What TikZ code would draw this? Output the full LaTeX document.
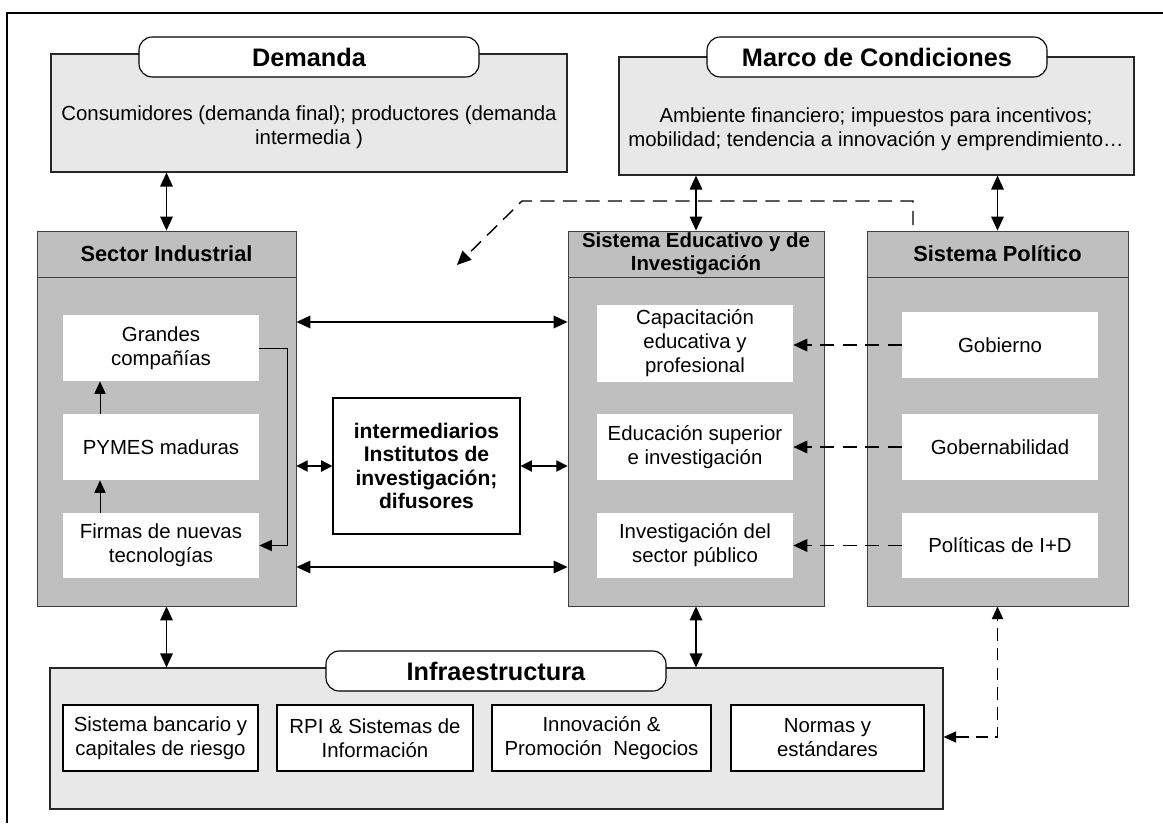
\documentclass[tikz,border=0pt]{standalone}
\usepackage{fontspec}
\setmainfont{Liberation Sans}
\usetikzlibrary{arrows.meta, positioning, fit}

\begin{document}
\begin{tikzpicture}[
  x=0.025cm, y=-0.025cm,
  outer/.style ={draw=black!85, fill=black!9, inner sep=0pt, line width=0.8pt},
  pill/.style  ={draw, fill=white, rounded corners=0.33cm, inner sep=0pt, line width=0.8pt},
  panel/.style ={draw=black!75, fill=black!25, inner sep=0pt, line width=0.6pt},
  inbox/.style ={fill=white, inner sep=0pt},
  infbox/.style={draw, fill=white, inner sep=0pt, line width=0.8pt},
  ttl/.style   ={font=\fontsize{18}{21}\selectfont\bfseries},
  hd/.style    ={align=center, font=\fontsize{15.5}{17}\selectfont\bfseries},
  txt/.style   ={align=center, font=\fontsize{14.5}{17}\selectfont},
  dbl/.style   ={{Triangle[length=10pt,width=9pt]}-{Triangle[length=10pt,width=9pt]}, line width=0.9pt},
  sdbl/.style  ={{Triangle[length=8pt,width=8pt]}-{Triangle[length=8pt,width=8pt]}, line width=0.9pt},
  arr/.style   ={-{Triangle[length=9pt,width=8pt]}, line width=0.7pt},
  dsh/.style   ={-{Triangle[length=10pt,width=9pt]}, line width=1pt, dash pattern=on 10pt off 6pt},
  dshd/.style  ={{Triangle[length=9pt,width=8pt]}-{Triangle[length=9pt,width=8pt]}, line width=0.9pt,
                 dash pattern=on 9pt off 5pt},
]

%% ---- Frame ----
\useasboundingbox (0,0) rectangle (1163,823);
\draw[line width=1pt] (7,823) |- (1163,13);

%% ---- Demanda / Marco de Condiciones ----
\node[outer, fit={(51,54) (567,172)}]  (DEM)  {};
\node[pill,  fit={(139,37) (479,77)}, label={[ttl]center:Demanda}] (DEMp) {};
\node[txt] (DEMt) at (309,127) {Consumidores (demanda final); productores (demanda\\intermedia )};

\node[outer, fit={(619,57) (1134,175)}] (MC)  {};
\node[pill,  fit={(707,37) (1047,77)}, label={[ttl]center:Marco de Condiciones}] (MCp) {};
\node[txt] (MCt) at (876,129) {Ambiente financiero; impuestos para incentivos;\\mobilidad; tendencia a innovación y emprendimiento…};

%% ---- Sector Industrial ----
\node[panel, fit={(37,231) (296,606)}] (SI)  {};
\node[panel, fit={(37,231) (296,277)}, label={[hd]center:Sector Industrial}] (SIh) {};
\node[inbox, fit={(63,315) (259,381)}, label={[txt]center:{Grandes\\compañías}}]      (GC) {};
\node[inbox, fit={(63,414) (259,480)}, label={[txt]center:PYMES maduras}]             (PM) {};
\node[inbox, fit={(63,513) (259,578)}, label={[txt]center:{Firmas de nuevas\\tecnologías}}] (FT) {};

%% ---- Sistema Educativo y de Investigacion ----
\node[panel, fit={(568,231) (824,606)}] (SE)  {};
\node[panel, fit={(568,231) (824,277)},
      label={[hd, font=\fontsize{14.5}{16.3}\selectfont\bfseries]center:{Sistema Educativo y de\\Investigación}}] (SEh) {};
\node[inbox, fit={(597,305) (793,382)}, label={[txt]center:{Capacitación\\educativa y\\profesional}}] (CAP) {};
\node[inbox, fit={(597,414) (793,480)}, label={[txt]center:{Educación superior\\e investigación}}]   (EDU) {};
\node[inbox, fit={(597,513) (793,578)}, label={[txt]center:{Investigación del\\sector público}}]     (INV) {};

%% ---- Sistema Politico ----
\node[panel, fit={(867,231) (1128,606)}] (SP)  {};
\node[panel, fit={(867,231) (1128,277)}, label={[hd]center:Sistema Político}] (SPh) {};
\node[inbox, fit={(902,312) (1098,378)}, label={[txt]center:Gobierno}]         (GOB) {};
\node[inbox, fit={(902,414) (1098,480)}, label={[txt]center:Gobernabilidad}]   (GBL) {};
\node[inbox, fit={(902,513) (1098,578)}, label={[txt]center:Políticas de I+D}] (PID) {};

%% ---- intermediarios ----
\node[infbox, fit={(333,398) (520,534)},
      label={[hd, font=\fontsize{15}{16.5}\selectfont\bfseries]center:{intermediarios\\Institutos de\\investigación;\\difusores}}] (INT) {};

%% ---- Infraestructura ----
\node[outer,  fit={(50,668) (943,809)}]  (INF)  {};
\node[pill,   fit={(326,651) (666,691)}, label={[ttl]center:Infraestructura}] (INFp) {};
\node[infbox, fit={(63,705) (258,771)},  label={[txt]center:{Sistema bancario y\\capitales de riesgo}}] (BAN) {};
\node[infbox, fit={(277,705) (473,771)}, label={[txt]center:{RPI \& Sistemas de\\Información}}]       (RPI) {};
\node[infbox, fit={(492,705) (711,771)}, label={[txt]center:{Innovación \&\\Promoción~~Negocios}}]    (INN) {};
\node[infbox, fit={(731,705) (924,771)}, label={[txt]center:{Normas y\\estándares}}]                  (NOR) {};

%% ---- Vertical links ----
\draw[dbl] (SIh.north) -- (SIh.north |- DEM.south);
\draw[dbl] (SEh.north) -- (SEh.north |- MC.south);
\draw[dbl] (SPh.north) -- (SPh.north |- MC.south);
\draw[dbl] (SI.south)  -- (SI.south |- INF.north);
\draw[dbl] (SE.south)  -- (SE.south |- INF.north);

%% ---- Horizontal links ----
\draw[dbl]  (SI.east |- {(0,322)}) -- (SE.west |- {(0,322)});
\draw[dbl]  (SI.east |- {(0,567)}) -- (SE.west |- {(0,567)});
\draw[sdbl] (INT.west -| SI.east)  -- (INT.west);
\draw[sdbl] (INT.east) -- (INT.east -| SE.west);

%% ---- Firm growth ----
\draw[arr] (FT.north -| {(100,0)}) -- (PM.south -| {(100,0)});
\draw[arr] (PM.north -| {(100,0)}) -- (GC.south -| {(100,0)});
\draw[arr] (GC.east) -- ++(28,0) |- (FT.east);

%% ---- Policy links (dashed) ----
\draw[dsh] (GOB.west) -- (GOB.west -| CAP.east);
\draw[dsh] (GBL.west) -- (GBL.west -| EDU.east);
\draw[dsh] (PID.west) -- (PID.west -| INV.east);

\coordinate (SPd) at (913,225);
\coordinate (tip) at (457,265);
\draw[dsh]  (SPd) |- (522,201) -- (tip);
\draw[dshd] (INF.east |- {(0,737)}) -| (SP.south);

\end{tikzpicture}
\end{document}
